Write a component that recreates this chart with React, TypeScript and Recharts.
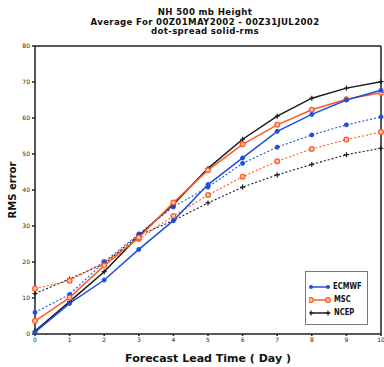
import React from 'react';
import { LineChart, Line, XAxis, YAxis, ReferenceLine } from 'recharts';

const days = [0, 1, 2, 3, 4, 5, 6, 7, 8, 9, 10];
const ecmwfRms = [0.5, 8.5, 15, 23.5, 31.5, 41.5, 48.9, 56.3, 61, 65, 67.7];
const ecmwfSpread = [6, 11, 20, 27.8, 35.3, 40.8, 47.4, 51.9, 55.3, 58.1, 60.3];
const mscRms = [3.6, 10.1, 19, 26.8, 36.5, 45.5, 52.7, 58.1, 62.3, 65.2, 67];
const mscSpread = [12.6, 14.8, 20, 26.4, 32.8, 38.6, 43.7, 48, 51.4, 54, 56.1];
const ncepRms = [0.8, 9, 17.3, 27.3, 36, 46, 54.1, 60.5, 65.5, 68.3, 70.1];
const ncepSpread = [11.2, 15.3, 19.5, 27.4, 31.5, 36.4, 40.8, 44.2, 47.1, 49.8, 51.6];
const yTicks = [0, 10, 20, 30, 40, 50, 60, 70, 80];
const titleLines = ['NH 500 mb Height', 'Average For 00Z01MAY2002 - 00Z31JUL2002', 'dot-spread solid-rms'];
const models = ['ECMWF', 'MSC', 'NCEP'];

const BLUE = '#1f4fe0';
const ORANGE = '#ff5a26';
const BLACK = '#1a1a1a';

const data = days.map((d, i) => ({
  day: d,
  ecmwfRms: ecmwfRms[i],
  ecmwfSpread: ecmwfSpread[i],
  mscRms: mscRms[i],
  mscSpread: mscSpread[i],
  ncepRms: ncepRms[i],
  ncepSpread: ncepSpread[i],
}));

const BlueDot = (p: any) => <circle key={p.index} cx={p.cx} cy={p.cy} r={2} fill={BLUE} stroke={BLUE} />;
const OrangeDot = (p: any) => (
  <circle key={p.index} cx={p.cx} cy={p.cy} r={2.4} fill="#ffc0a0" stroke={ORANGE} strokeWidth={1.2} />
);
const PlusDot = (p: any) => (
  <path key={p.index} d={`M${p.cx - 2.5},${p.cy}H${p.cx + 2.5}M${p.cx},${p.cy - 2.5}V${p.cy + 2.5}`} stroke={BLACK} strokeWidth={1.2} />
);

const markerFor = (name: string) => {
  if (name === 'ECMWF') return <circle cx={9} cy={4} r={2} fill={BLUE} />;
  if (name === 'MSC') return <circle cx={9} cy={4} r={2.4} fill="#ffc0a0" stroke={ORANGE} strokeWidth={1.2} />;
  return <path d="M6.5,4H11.5M9,1.5V6.5" stroke={BLACK} strokeWidth={1.2} />;
};
const colorFor = (name: string) => (name === 'ECMWF' ? BLUE : name === 'MSC' ? ORANGE : BLACK);

const LegendBox = () => (
  <div
    style={{
      position: 'absolute',
      left: 305,
      top: 271,
      width: 63,
      height: 54,
      border: '1px solid #777',
      background: '#fff',
      boxSizing: 'border-box',
      padding: '8px 0 0 3px',
      fontFamily: 'DejaVu Sans, sans-serif',
      fontWeight: 'bold',
      fontSize: 8,
    }}
  >
    {models.map((m) => (
      <div key={m} style={{ display: 'flex', alignItems: 'center', height: 13 }}>
        <svg width={22} height={8} style={{ display: 'block' }}>
          <line x1={1} y1={4} x2={21} y2={4} stroke={colorFor(m)} strokeWidth={1.5} />
          <g transform="translate(-7,0)">{markerFor(m)}</g>
          <g transform="translate(10,0)">{markerFor(m)}</g>
        </svg>
        <span style={{ marginLeft: 3, color: '#111', display: 'inline-block', transform: 'scaleX(0.85)', transformOrigin: 'left' }}>{m}</span>
      </div>
    ))}
  </div>
);

const tickStyle = { fontSize: 6, fill: '#222', fontFamily: 'DejaVu Sans, sans-serif' };

export default function App() {
  return (
    <div style={{ position: 'absolute', left: 0, top: 0, width: 384, height: 367, background: '#fff' }}>
      <div
        style={{
          position: 'absolute',
          left: 0,
          top: 8,
          width: 410,
          textAlign: 'center',
          fontFamily: 'DejaVu Sans, sans-serif',
          fontWeight: 'bold',
          fontSize: 8.6,
          letterSpacing: 0.35,
          lineHeight: '9.5px',
          color: '#111',
        }}
      >
        {titleLines.map((t) => (
          <div key={t} style={{ height: 9.5 }}>{t}</div>
        ))}
      </div>
      <LineChart width={384} height={367} data={data} margin={{ top: 46, right: 3, bottom: 0, left: 0 }}>
        <XAxis
          dataKey="day"
          type="number"
          domain={[0, 10]}
          ticks={days}
          interval={0}
          height={33}
          tick={tickStyle}
          tickSize={2}
          stroke="#222"
          strokeWidth={1.5}
          label={{
            value: 'Forecast Lead Time ( Day )',
            position: 'insideBottom',
            offset: 5,
            style: { fontSize: 11, fontWeight: 'bold', fill: '#111', fontFamily: 'DejaVu Sans, sans-serif' },
          }}
        />
        <YAxis
          domain={[0, 80]}
          ticks={yTicks}
          interval={0}
          width={35}
          tick={tickStyle}
          tickSize={3}
          stroke="#222"
          strokeWidth={1.5}
          label={{
            value: 'RMS error',
            angle: -90,
            position: 'insideLeft',
            offset: 12,
            style: { fontSize: 10, fontWeight: 'bold', fill: '#111', fontFamily: 'DejaVu Sans, sans-serif', textAnchor: 'middle' },
          }}
        />
        <ReferenceLine y={80} stroke="#222" strokeWidth={1.5} />
        <ReferenceLine x={10} stroke="#222" strokeWidth={1.5} />
        <Line dataKey="ncepSpread" stroke={BLACK} strokeWidth={1.1} strokeDasharray="2 2" dot={PlusDot} isAnimationActive={false} />
        <Line dataKey="mscSpread" stroke={ORANGE} strokeWidth={1.1} strokeDasharray="2 2" dot={OrangeDot} isAnimationActive={false} />
        <Line dataKey="ecmwfSpread" stroke={BLUE} strokeWidth={1.1} strokeDasharray="2 2" dot={BlueDot} isAnimationActive={false} />
        <Line dataKey="ncepRms" name="NCEP" stroke={BLACK} strokeWidth={1.5} dot={PlusDot} isAnimationActive={false} />
        <Line dataKey="mscRms" name="MSC" stroke={ORANGE} strokeWidth={1.5} dot={OrangeDot} isAnimationActive={false} />
        <Line dataKey="ecmwfRms" name="ECMWF" stroke={BLUE} strokeWidth={1.5} dot={BlueDot} isAnimationActive={false} />
      </LineChart>
      <LegendBox />
    </div>
  );
}
